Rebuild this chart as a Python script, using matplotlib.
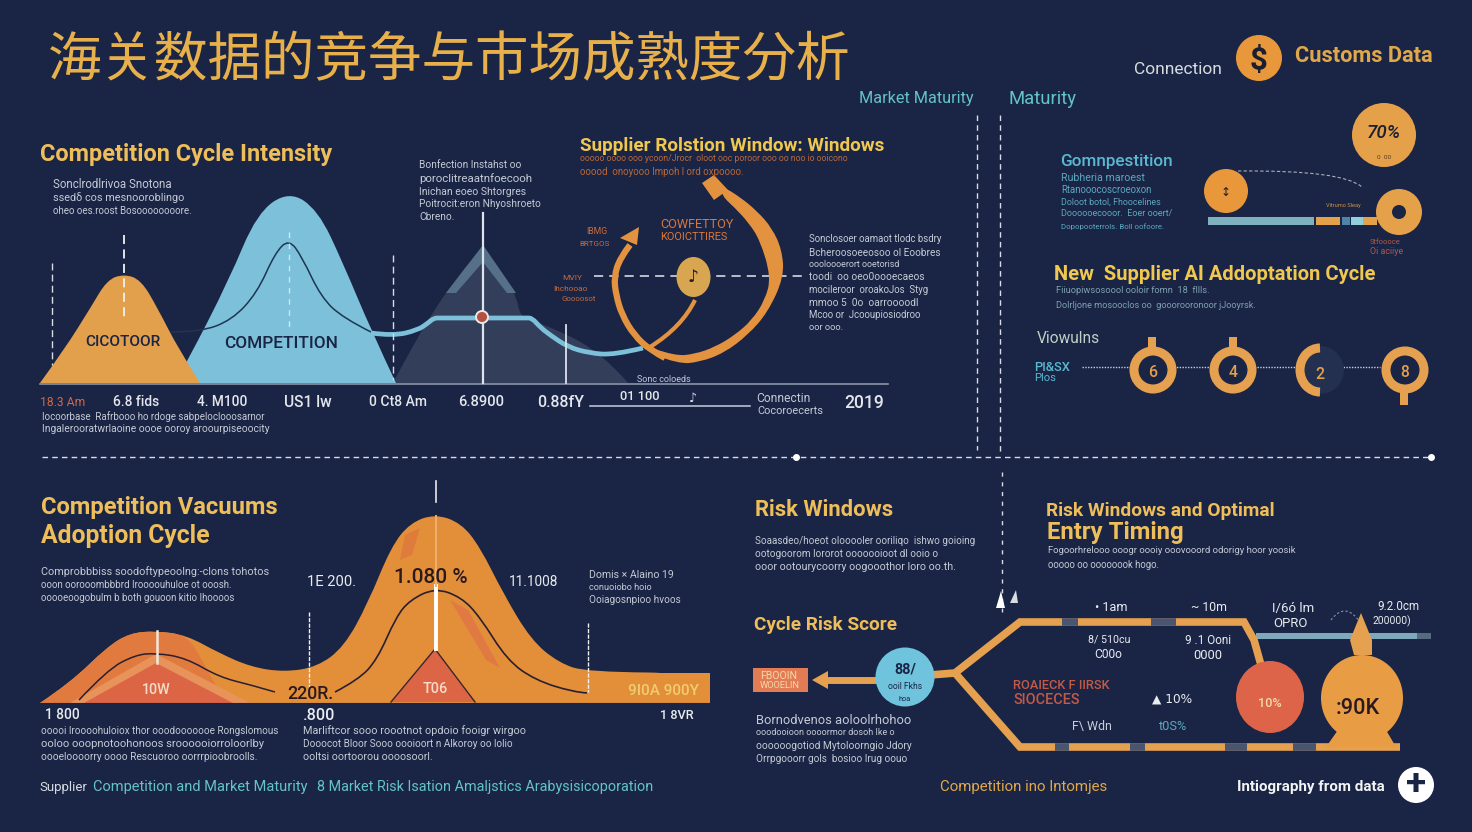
#!/usr/bin/env python3

import matplotlib
matplotlib.use('Agg')
import matplotlib.pyplot as plt
from matplotlib import font_manager
from matplotlib.path import Path
from matplotlib.patches import PathPatch, Polygon, Circle, Ellipse, Rectangle, Arc

BG = '#1a2444'
TAN = '#e5a04a'
ORANGE = '#e38f3a'
RED = '#dc6545'
SKY = '#7cc0da'
GOLD = '#edbe5a'
YELLOW = '#f0c850'
TEAL = '#63c3c8'
BODY = '#c4cbd6'
SLATE = '#333e5a'

# ---- values (outline x / y pairs) ----
TAN_HUMP_X = [40, 64, 91, 107, 124, 141, 157, 179, 200]
TAN_HUMP_Y = [383, 350, 307, 280, 274, 280, 307, 350, 383]
BLUE_HUMP_X = [175, 187, 229, 257, 289, 318, 343, 371, 396]
BLUE_HUMP_Y = [383, 362, 280, 213, 191, 210, 263, 330, 383]
INNER_LINE_X = [171, 200, 232, 257, 275, 289, 302, 321, 343, 371]
INNER_LINE_Y = [332, 332, 320, 293, 253, 239, 257, 297, 318, 332]
PLATEAU_X = [371, 393, 418, 428, 434, 440, 526, 532, 540, 550, 568, 589, 614, 643]
PLATEAU_Y = [333, 336, 330, 323, 318, 318, 318, 318, 327, 335, 347, 353, 355, 348]
MOUNTAIN_X = [393, 414, 439, 446, 482, 516, 520, 534, 600, 628]
MOUNTAIN_Y = [383, 343, 303, 293, 245, 293, 317, 320, 350, 383]
RING_LEFT_X = [630, 620, 614, 616, 622, 634, 650, 665]
RING_LEFT_Y = [245, 258, 277, 295, 315, 335, 350, 358]
RING_OUTER_X = [655, 678, 700, 724, 748, 768, 784, 782, 772, 757, 740, 722]
RING_OUTER_Y = [355, 364, 362, 353, 335, 312, 277, 250, 228, 211, 197, 186]
RING_INNER_X = [722, 735, 748, 760, 771, 765, 752, 735, 715, 695, 675, 655]
RING_INNER_Y = [196, 208, 222, 240, 277, 300, 320, 335, 347, 354, 356, 349]
RING_TAIL_X = [695, 682, 650]
RING_TAIL_Y = [300, 327, 347]
BIG_AREA_X = [40, 70, 107, 130, 156, 186, 219, 251, 284, 317, 344, 368, 391, 410, 435,
              461, 480, 503, 531, 559, 587, 710]
BIG_AREA_Y = [703, 683, 647, 633, 631, 635, 653, 667, 672, 667, 647, 603, 547, 523, 514,
              523, 547, 593, 640, 663, 672, 673]
LEFT_HUMP_X = [40, 70, 107, 130, 156, 186, 200, 225]
LEFT_HUMP_Y = [703, 683, 647, 633, 631, 635, 655, 703]
LEFT_LINE_X = [79, 107, 135, 156, 186, 219, 251, 275]
LEFT_LINE_Y = [700, 670, 655, 653, 658, 677, 685, 692]
PEAK_LINE_X = [335, 358, 377, 396, 410, 435, 461, 480, 507, 535, 573, 587]
PEAK_LINE_Y = [692, 680, 660, 617, 600, 588, 597, 617, 660, 680, 692, 693]
RING_CENTERS = [1153, 1233, 1405]
RING_DIGITS = ['6', '4', '8']

# ---- labels ----
TITLE = '海关数据的竞争与市场成熟度分析'
TICKS_TOP = ['6.8 fids', '4. M100', 'US1 lw', '0 Ct8 Am', '6.8900', '0.88fY']
TICK_TOP_POS = [136, 222, 308, 398, 481, 561]
TICK_TOP_W = [46, 50, 48, 58, 46, 47]
P_CYCLE = ['Sonclrodlrivoa Snotona', 'ssedδ cos mesnooroblingo', 'oheo oes.roost Bosoooooooore.']
P_NOTE = ['Bonfection Instahst oo', 'poroclitreaatnfoecooh', 'Inichan eoeo Shtorgres',
          'Poitrocit:eron Nhyoshroeto', 'Cbreno.']
P_UNDER = ['Iocoorbase  Rafrbooo ho rdoge sabpeloclooosarnor',
           'Ingalerooratwrlaoine oooe ooroy aroourpiseoocity']
P_RING = ['Sonclosoer oamaot tlodc bsdry', 'Bcheroosoeeosoo ol Eoobres', 'oooloooerort ooetorisd',
          'toodi  oo oeo0oooecaeos', 'mocileroor  oroakoJos  Styg', 'mmoo 5  0o  oarroooodl',
          'Mcoo or  Jcooupiosiodroo', 'oor ooo.']
P_GOMP = ['Rubheria maroest', 'Rtanooocoscroeoxon', 'Doloot botol, Fhoocelines',
          'Doooooecooor.  Eoer ooert/', 'Dopopooterrols. Boll oofoore.']
P_VAC = ['Comprobbbiss soodoftypeoolng:-clons tohotos', 'ooon oorooombbbrd Iroooouhuloe ot ooosh.',
         'ooooeoogobulm b both gouoon kitio Ihoooos']
P_DOM = ['Domis × Alaino 19', 'conuoiobo hoio', 'Ooiagosnpioo hvoos']
P_LOW1 = ['ooooi Iroooohuloiox thor ooodooooooe Rongslomous', 'ooloo ooopnotoohonoos sroooooiorroloorlby',
          'oooeloooorry oooo Rescuoroo oorrrpioobroolls.']
P_LOW2 = ['Marliftcor sooo roootnot opdoio fooigr wirgoo', 'Dooocot Bloor Sooo oooioort n Alkoroy oo lolio',
          'ooltsi oortoorou oooosoorl.']
P_RISK = ['Soaasdeo/hoeot olooooler ooriliqo  ishwo goioing', 'ootogoorom lororot ooooooioot dl ooio o',
          'ooor ootourycoorry oogooothor loro oo.th.']
P_ENTRY = ['Fogoorhrelooo ooogr oooiy ooovooord odorigy hoor yoosik', 'ooooo oo oooooook hogo.']
P_SCORE = ['Bornodvenos aoloolrhohoo', 'ooodooioon oooormor dosoh Ike o',
           'oooooogotiod Mytoloorngio Jdory', 'Orrpgooorr gols  bosioo Irug oouo']


def curve(xs, ys, close=False):
    # quadratic curves through midpoints of the read points
    pts = list(zip(xs, ys))
    verts = [pts[0]]
    codes = [Path.MOVETO]
    for i in range(1, len(pts) - 1):
        nxt = pts[i + 1] if i == len(pts) - 2 else (
            (pts[i][0] + pts[i + 1][0]) / 2, (pts[i][1] + pts[i + 1][1]) / 2)
        verts += [pts[i], nxt]
        codes += [Path.CURVE3, Path.CURVE3]
    if close:
        verts += [pts[0], pts[0]]
        codes += [Path.LINETO, Path.CLOSEPOLY]
    return Path(verts, codes)


def cjk_font():
    # the family name alone may not resolve, so look the file up
    fonts = [f for f in font_manager.fontManager.ttflist if 'CJK' in f.name]
    fonts.sort(key=lambda f: (f.name != 'Noto Sans CJK SC', f.weight != 400 and f.weight != 'regular'))
    if fonts:
        return font_manager.FontProperties(fname=fonts[0].fname)
    paths = [p for p in font_manager.findSystemFonts() if 'CJK' in p]
    return font_manager.FontProperties(fname=sorted(paths)[0])


fig = plt.figure(figsize=(14.72, 8.32), dpi=100, facecolor=BG)
ax = fig.add_axes([0, 0, 1, 1])
ax.set_xlim(0, 1472)
ax.set_ylim(832, 0)
ax.axis('off')
rend = fig.canvas.get_renderer()


def txt(x, y, s, w, color=BODY, weight='normal', ha='left', family='Roboto', style='normal'):
    # font size is scaled so the string spans w pixels
    t = ax.text(x, y, s, color=color, fontsize=10, fontweight=weight, ha=ha, va='center',
                family=family, fontstyle=style, zorder=20)
    size = 10 * w / t.get_window_extent(rend).width
    t.set_fontsize(size)
    t.set_y(y + 0.12 * size)
    return t


def para(x, ys, lines, ends, color=BODY):
    for y, s, e in zip(ys, lines, ends):
        txt(x, y, s, e - x, color=color)


def fill(xs, ys, color, z=2, alpha=1):
    ax.add_patch(PathPatch(curve(xs, ys, close=True), fc=color, ec='none', zorder=z, alpha=alpha))


def line(xs, ys, color, lw, z=5, smooth=True, ls='-'):
    if smooth:
        ax.add_patch(PathPatch(curve(xs, ys), fc='none', ec=color, lw=lw, ls=ls, zorder=z,
                               capstyle='butt'))
    else:
        ax.plot(xs, ys, color=color, lw=lw, ls=ls, zorder=z, solid_capstyle='butt')


def poly(pts, color, z=5):
    ax.add_patch(Polygon(pts, closed=True, fc=color, ec='none', zorder=z))


# title and header
title = ax.text(48, 61, TITLE, color='#e8b04a', fontsize=38.5, va='center', fontproperties=cjk_font(),
                zorder=20)
title.set_fontsize(38.5)
txt(859, 97, 'Market Maturity', 115, color=TEAL)
txt(1008, 97, 'Maturity', 68, color=TEAL)
txt(1134, 68, 'Connection', 88, color='#d5dce0')
ax.add_patch(Circle((1259, 58), 23, fc='#e8983a', zorder=5))
txt(1259, 58, '$', 18, color='#1a2030', weight='bold', ha='center')
txt(1295, 54, 'Customs Data', 138, color='#e0a84a', weight='bold')

# separators
dash = (0, (4, 3))
ax.plot([42, 1432], [457, 457], color='#d8dde4', lw=1, ls=dash, zorder=1)
ax.plot([796, 1431], [457, 457], 'o', color='white', ms=4, zorder=2)
ax.plot([977, 977], [115, 450], color='#d8dde4', lw=1, ls=dash, zorder=1)
ax.plot([1000, 1000], [115, 455], color='#d8dde4', lw=1, ls=dash, zorder=1)
ax.plot([1002, 1002], [472, 612], color='#d8dde4', lw=1, ls=(0, (3, 4)), zorder=1)
poly([(1001, 591), (996, 608), (1005, 608)], 'white', 8)
poly([(1016, 590), (1010, 603), (1018, 603)], '#d8dde4', 8)

# competition cycle panel
txt(40, 152, 'Competition Cycle Intensity', 293, color=GOLD, weight='bold')
para(53, [184, 197, 210], P_CYCLE, [172, 184, 192])
para(419, [164, 178, 191, 203, 216], P_NOTE, [521, 532, 525, 540, 454])
fill(MOUNTAIN_X, MOUNTAIN_Y, SLATE, z=2)
poly([(446, 293), (483, 245), (516, 293), (507, 293), (483, 262), (456, 293)], '#56708a', 3)
fill(BLUE_HUMP_X, BLUE_HUMP_Y, SKY, z=4)
fill(TAN_HUMP_X, TAN_HUMP_Y, '#e2a04c', z=5)
line(INNER_LINE_X, INNER_LINE_Y, '#1f3550', 1.1, z=6)
line(PLATEAU_X, PLATEAU_Y, '#7cc0da', 3.4, z=6)
ax.plot([40, 888], [383.5, 383.5], color='#8a94a8', lw=1.2, zorder=7)
ax.plot([483, 483], [213, 383], color='#dde3ea', lw=1.6, zorder=7)
ax.plot([566, 566], [325, 383], color='#dde3ea', lw=1.3, zorder=7)
ax.plot([124, 124], [235, 320], color='#f2f2ee', lw=1.3, ls=(0, (5, 3)), zorder=7)
ax.plot([51.5, 51.5], [263, 365], color='#d8dde4', lw=1, ls=(0, (5, 3)), zorder=7)
ax.plot([393, 393], [255, 380], color='#d8dde4', lw=1, ls=(0, (5, 3)), zorder=7)
ax.plot([289, 289], [232, 330], color='#cde8f2', lw=1, ls=(0, (4, 4)), zorder=7)
ax.add_patch(Circle((482, 317), 6, fc='#b5523f', ec='#e8e8e8', lw=1.4, zorder=8))
txt(123, 341, 'CICOTOOR', 76, color=BG, weight='medium', ha='center')
txt(281, 342, 'COMPETITION', 114, color=BG, weight='medium', ha='center')
txt(40, 401, '18.3 Am', 45, color='#d0694a')
for p, s, w in zip(TICK_TOP_POS, TICKS_TOP, TICK_TOP_W):
    txt(p, 401, s, w, color='#e3e7ec', ha='center', weight='medium')
para(42, [416, 428], P_UNDER, [266, 269])

# supplier rotation ring
txt(580, 144, 'Supplier Rolstion Window: Windows', 305, color=YELLOW, weight='bold')
para(580, [158, 171], ['ooooo oooo ooo ycoon/Jrocr  oloot ooc poroor ooo oo noo io ooicono',
                       'ooood  onoyooo Impoh l ord oxpoooo.'], [853, 745], color='#b8683a')
line(RING_LEFT_X, RING_LEFT_Y, '#e3933f', 4.5, z=6)
fill(RING_OUTER_X + RING_INNER_X, RING_OUTER_Y + RING_INNER_Y, '#e3933f', z=6)
line(RING_TAIL_X, RING_TAIL_Y, '#e3933f', 3, z=6)
poly([(620, 238), (639, 227), (637, 245)], '#e3933f', 6)
poly([(714, 175), (702, 183), (714, 200), (728, 190)], '#e3933f', 6)
ax.plot([594, 803], [276, 276], color='#e6e9ee', lw=1.1, ls=(0, (6, 4)), zorder=5)
ax.add_patch(Ellipse((693.5, 277), 34, 40, fc='#d8a550', zorder=7))
txt(693, 276, '♪', 11, color='#1a2030', ha='center', family='DejaVu Sans')
para(660, [223, 236], ['COWFETTOY', 'KOOICTTIRES'], [733, 727], color='#d8773a')
para(586, [231], ['IBMG'], [607], color='#c86a3c')
para(579, [243], ['BRTGOS'], [609], color='#c86a3c')
para(562, [277], ['MVIY'], [582], color='#c86a3c')
para(553, [288], ['Ihchooao'], [587], color='#c86a3c')
para(561, [298], ['Goooosot'], [595], color='#c86a3c')
para(809, [238, 252, 264, 276, 289, 302, 314, 327], P_RING, [942, 939, 900, 923, 929, 918, 922, 843])
txt(637, 379, 'Sonc coloeds', 54)
txt(640, 395, '01 100', 40, color='#e3e7ec', ha='center', weight='medium')
ax.plot([590, 750], [406, 406], color='#c8ced8', lw=1.1, zorder=5)
txt(693, 397, '♪', 8, color='#d8dde4', ha='center', family='DejaVu Sans')
txt(756, 397, 'Connectin', 54)
txt(757, 410, 'Cocoroecerts', 66)
txt(844, 401, '2019', 40, color='#e3e7ec', weight='medium')

# competition / ai adoption (right column)
ax.add_patch(Circle((1384, 135), 32, fc='#e5a04a', zorder=5))
txt(1384, 131, '70%', 34, color='#1a2030', ha='center', style='italic', weight='medium')
txt(1384, 157, '0  00', 14, color='#5a3a20', ha='center')
txt(1060, 160, 'Gomnpestition', 113, color='#5ab8d0', weight='medium')
para(1061, [177, 189, 201, 213, 226], P_GOMP, [1145, 1153, 1161, 1173, 1165], color='#5ca8c0')
ax.add_patch(Circle((1226, 191), 22, fc='#e8983a', zorder=5))
txt(1226, 191, '↕', 10, color='#1a2030', ha='center', family='DejaVu Sans')
line([1238, 1343, 1362], [171, 170, 187], '#a8b0bc', 0.8, ls=(0, (3, 2)))
ax.add_patch(Rectangle((1208, 217), 106, 8, fc='#7fb0be', zorder=4))
ax.add_patch(Rectangle((1316, 217), 24, 8, fc=TAN, zorder=4))
ax.add_patch(Rectangle((1342, 217), 8, 8, fc='#4b86a8', zorder=4))
ax.add_patch(Rectangle((1351, 217), 12, 8, fc='#8fd0dc', zorder=4))
ax.add_patch(Rectangle((1363, 217), 14, 8, fc=TAN, zorder=4))
ax.add_patch(Circle((1399, 212), 23, fc='#e5a04a', zorder=5))
ax.add_patch(Circle((1399, 212), 7, fc=BG, zorder=6))
txt(1326, 205, 'Vitrumo Sleay', 35, color='#c89048')
txt(1370, 242, 'Stfoooce', 30, color='#b05a48')
txt(1370, 251, 'Oi aciiye', 33, color='#b05a48')
txt(1054, 273, 'New  Supplier AI Addoptation Cycle', 322, color=YELLOW, weight='bold')
para(1056, [290, 305], ['Fiiuopiwsosoool ooloir fomn  18  fllls.', 'Dolrljone mosooclos oo  gooorooronoor jJooyrsk.'],
     [1210, 1256], color='#7ea0b0')
txt(1037, 337, 'Viowulns', 63, color='#bfd0c8')
txt(1034, 366, 'PI&SX', 36, color='#5ab8d0', weight='medium')
txt(1034, 377, 'Plos', 22, color='#5ab8d0')
ax.plot([1082, 1380], [367, 367], color='#c8ced8', lw=1, ls=(0, (1, 1)), zorder=3)
for cx, digit in zip(RING_CENTERS, RING_DIGITS):
    ax.add_patch(Circle((cx, 370), 19, fc=BG, ec='#e5a050', lw=6.5, zorder=5))
    txt(cx, 371, digit, 9, color=TAN, ha='center', weight='medium')
ax.add_patch(Circle((1320, 370), 24, fc='#24304f', zorder=4))
ax.add_patch(Arc((1320, 370), 40, 44, theta1=90, theta2=270, ec='#e5a050', lw=6.5, zorder=5))
txt(1320, 373, '2', 9, color=TAN, ha='center', weight='medium')
ax.add_patch(Rectangle((1148, 337), 8, 11, fc='#e5a050', zorder=5))
ax.add_patch(Rectangle((1229, 337), 8, 11, fc='#e5a050', zorder=5))
ax.add_patch(Rectangle((1400, 392), 8, 13, fc='#e5a050', zorder=5))

# vacuums / adoption cycle
txt(41, 505, 'Competition Vacuums', 238, color=GOLD, weight='bold')
txt(41, 534, 'Adoption Cycle', 170, color=GOLD, weight='bold')
para(41, [571, 584, 597], P_VAC, [268, 233, 237])
fill(BIG_AREA_X + [710], BIG_AREA_Y + [703], ORANGE, z=2)
ax.add_patch(Rectangle((590, 673), 120, 30, fc=ORANGE, zorder=2))
fill(LEFT_HUMP_X, LEFT_HUMP_Y, '#e07a3e', z=3)
poly([(70, 703), (156, 654), (250, 703)], '#e8935a', 3)
poly([(84, 703), (156, 663), (233, 703)], RED, 4)
poly([(405, 535), (420, 528), (412, 555), (400, 560)], '#df7c3c', 3)
poly([(450, 600), (468, 610), (500, 668), (486, 660)], '#e07a42', 3)
poly([(391, 702), (435, 649), (475, 702)], RED, 5)
line(LEFT_LINE_X, LEFT_LINE_Y, '#2a1f30', 1.1, z=6)
line(PEAK_LINE_X, PEAK_LINE_Y, '#2a1f30', 1.2, z=6)
ax.plot([391, 435, 475], [702, 649, 702], color='#3a2630', lw=1, zorder=6)
ax.plot([436, 436], [586, 649], color='white', lw=2.8, zorder=7)
ax.plot([436, 436], [516, 586], color='#eeb070', lw=1.4, zorder=7)
ax.plot([436, 436], [481, 502], color='#e8e8e8', lw=1.2, zorder=7)
ax.plot([157, 157], [631, 663], color='#f4e8dc', lw=1.8, zorder=7)
ax.plot([309, 309], [612, 692], color='#f0f0f0', lw=1, ls=(0, (3, 1)), zorder=7)
ax.plot([588, 588], [623, 692], color='#f0f0f0', lw=1, ls=(0, (3, 1)), zorder=7)
ax.plot([40, 710], [703, 703], color='#1a2444', lw=0.8, zorder=7)
txt(431, 576, '1.080 %', 74, color='#2a1a20', ha='center', weight='medium')
txt(332, 581, '1E 200.', 49, color='#e8ecf0', ha='center')
txt(534, 581, '11.1008', 49, color='#e8ecf0', ha='center')
txt(310, 692, '220R.', 46, color='#2a1a20', ha='center', weight='medium')
txt(156, 689, '10W', 29, color='#f6dcc8', ha='center', weight='medium')
txt(435, 688, 'T06', 25, color='#f6dcc8', ha='center', weight='medium')
txt(664, 690, '9I0A 900Y', 71, color='#f0cc70', ha='center', weight='medium')
para(589, [574, 587, 599], P_DOM, [674, 652, 680])
txt(45, 714, '1 800', 35, color='#e8ecf0', weight='medium')
txt(303, 714, '.800', 32, color='#e8ecf0', weight='medium')
txt(660, 714, '1 8VR', 34, color='#e8ecf0', weight='medium')
para(41, [730, 743, 756], P_LOW1, [276, 266, 256])
para(303, [730, 743, 756], P_LOW2, [525, 512, 432])

# footer
txt(39, 786, 'Supplier', 48, color='#d5dce0')
txt(93, 786, 'Competition and Market Maturity', 214, color=TEAL)
txt(317, 786, '8 Market Risk Isation Amaljstics Arabysisicoporation', 337, color=TEAL)
txt(940, 786, 'Competition ino Intomjes', 168, color='#e0a84a')
txt(1237, 786, 'Intiography from data', 148, color='#f2f4f6', weight='bold')
ax.add_patch(Circle((1416, 785), 18, fc='white', zorder=5))
txt(1416, 782, '+', 20, color=BG, ha='center', weight='bold')

# risk windows
txt(755, 508, 'Risk Windows', 138, color=GOLD, weight='bold')
para(755, [540, 553, 566], P_RISK, [972, 936, 956])
txt(1046, 509, 'Risk Windows and Optimal', 230, color=GOLD, weight='bold')
txt(1047, 530, 'Entry Timing', 137, color=GOLD, weight='bold')
para(1048, [550, 564], P_ENTRY, [1294, 1160])
txt(754, 623, 'Cycle Risk Score', 143, color=GOLD, weight='bold')

ax.add_patch(Rectangle((753, 668), 55, 24, fc='#e37b55', zorder=5))
para(760, [675, 685], ['FBOOIN', 'WOOELIN'], [797, 800], color='#f6d8a8')
ax.plot([826, 880], [680, 680], color='#e5a050', lw=5, zorder=4, solid_capstyle='butt')
poly([(812, 680), (828, 671), (828, 689)], '#e5a050', 5)
ax.plot([930, 955, 1020, 1244, 1254, 1261], [675, 673, 622, 622, 640, 665], color='#e5a050', lw=5.5,
        zorder=4, solid_joinstyle='miter', solid_capstyle='butt')
ax.plot([955, 1020, 1400], [673, 747, 747], color='#e5a050', lw=5.5, zorder=4,
        solid_joinstyle='miter', solid_capstyle='butt')
for a, b in [(1062, 1078), (1151, 1176)]:
    ax.plot([a, b], [622, 622], color='#4a5570', lw=5.5, zorder=5, solid_capstyle='butt')
for a, b in [(1055, 1069), (1130, 1145), (1225, 1247), (1293, 1316)]:
    ax.plot([a, b], [747, 747], color='#4a5570', lw=5.5, zorder=5, solid_capstyle='butt')
ax.add_patch(Rectangle((1256, 633), 162, 6, fc='#7fa8bc', zorder=3))
ax.add_patch(Rectangle((1417, 633), 14, 6, fc='#566a82', zorder=3))
ax.add_patch(Circle((905, 677), 29.5, fc='#6fc3dc', zorder=6))
txt(905, 668, '88/', 22, color='#1a2444', ha='center', weight='bold')
txt(905, 686, 'ooil Fkhs', 34, color='#1a2444', ha='center')
txt(905, 699, 'hoa', 12, color='#1a2444', ha='center')
ax.add_patch(Ellipse((1270, 697), 68, 72, fc='#dd6448', zorder=6))
txt(1270, 702, '10%', 24, color='#f6d8a8', ha='center', weight='medium')
poly([(1361, 613), (1350, 640), (1354, 655), (1372, 655), (1372, 640)], '#e5a050', 6)
ax.add_patch(Ellipse((1362, 698), 82, 86, fc='#e89c44', zorder=6))
poly([(1338, 730), (1386, 730), (1396, 747), (1326, 747)], '#e89c44', 6)
line([1331, 1345, 1360], [620, 601, 622], '#8a94a8', 0.8, ls=(0, (2, 2)))
txt(1358, 707, ':90K', 44, color='#2a1a20', ha='center', weight='medium')
txt(1111, 606, '• 1am', 33, color='#e8ecf0', ha='center')
txt(1209, 606, '~ 10m', 36, color='#e8ecf0', ha='center')
txt(1293, 607, 'I/6ó lm', 42, color='#e8ecf0', ha='center')
txt(1290, 622, 'OPRO', 34, color='#e8ecf0', ha='center')
txt(1398, 605, '9.2.0cm', 42, color='#e8ecf0', ha='center')
txt(1392, 620, '200000)', 38, color='#e8ecf0', ha='center')
txt(1109, 639, '8/ 510cu', 42, color='#e8ecf0', ha='center')
txt(1108, 653, 'C00o', 28, color='#e8ecf0', ha='center')
txt(1208, 639, '9 .1 Ooni', 46, color='#e8ecf0', ha='center')
txt(1208, 654, '0000', 29, color='#e8ecf0', ha='center')
txt(1013, 684, 'ROAIECK F IIRSK', 97, color='#c25a48', weight='medium')
txt(1013, 699, 'SIOCECES', 67, color='#c25a48', weight='medium')
txt(1172, 698, '▲ 10%', 40, color='#e8ecf0', ha='center', family='DejaVu Sans')
txt(1092, 725, 'F\\ Wdn', 40, color='#c8ced8', ha='center')
txt(1173, 725, 't0S%', 28, color='#5ca8c0', ha='center')
para(756, [719, 732, 745, 758], P_SCORE, [911, 895, 911, 907])

plt.savefig('out.png', dpi=100, facecolor=BG)
